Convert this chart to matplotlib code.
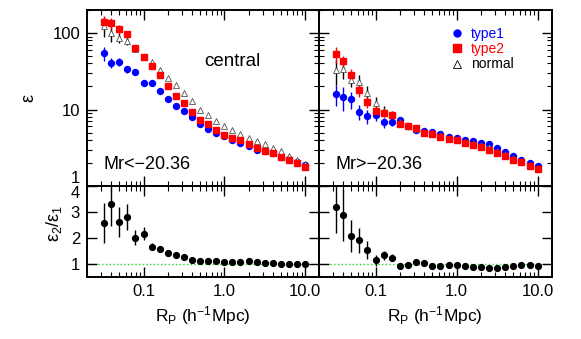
import matplotlib
matplotlib.use('Agg')
import matplotlib.pyplot as plt
from matplotlib.lines import Line2D
from matplotlib.ticker import LogLocator, NullFormatter, FixedLocator, FixedFormatter

plt.rcParams['font.family'] = ['Liberation Sans', 'DejaVu Sans']
plt.rcParams['mathtext.fontset'] = 'custom'
plt.rcParams['mathtext.rm'] = 'Liberation Sans'
plt.rcParams['mathtext.it'] = 'Liberation Sans:italic'

# projected separation bins (h^-1 Mpc)
rp = [0.032, 0.040, 0.050, 0.063, 0.079, 0.100, 0.126, 0.158, 0.200, 0.251,
      0.316, 0.398, 0.501, 0.631, 0.794, 1.00, 1.26, 1.58, 2.00, 2.51,
      3.16, 3.98, 5.01, 6.31, 7.94, 10.0]

# Mr < -20.36
left_t1 = [54, 41, 42, 33.6, 31, 22.4, 22, 17.5, 13.8, 11, 9.5, 8.0, 6.5, 5.6, 5.0,
           4.47, 4.0, 3.6, 3.3, 3.0, 2.87, 2.69, 2.41, 2.25, 2.07, 1.87]
left_t1_err = [11, 6, 5, 4, 3, 1.5, 1.2, 0.8, 0.5, 0.4, 0.3, 0.2, 0.15, 0.1, 0.1,
               0.08, 0.07, 0.06, 0.05, 0.05, 0.04, 0.04, 0.04, 0.03, 0.03, 0.03]
left_t2 = [138, 135, 112, 96, 63, 49, 37, 28.6, 20, 14.8, 12.1, 9.4, 7.2, 6.4, 5.4,
           4.7, 4.3, 4.0, 3.57, 3.1, 2.9, 2.67, 2.39, 2.2, 2.0, 1.78]
left_t2_err = [30, 22, 15, 10, 6, 4, 2.5, 1.8, 1.0, 0.7, 0.5, 0.4, 0.3, 0.2, 0.15,
               0.12, 0.1, 0.08, 0.07, 0.06, 0.05, 0.05, 0.04, 0.04, 0.03, 0.03]
left_norm = [125, 99, 86, 79, 62, 48, 41.5, 33, 26, 21, 16.6, 12.9, 9.9, 8.5, 7.1,
             6.1, 5.4, 4.8, 4.3, 3.9, 3.5, 3.16, 2.87, 2.5, 2.18, 1.95]
left_norm_err = [35, 22, 13, 10, 5, 3, 2, 1.5, 1.0, 0.7, 0.5, 0.4, 0.3, 0.2, 0.15,
                 0.12, 0.1, 0.08, 0.07, 0.06, 0.05, 0.05, 0.04, 0.04, 0.03, 0.03]
left_ratio = [2.59, 3.30, 2.63, 2.81, 2.01, 2.17, 1.67, 1.59, 1.44, 1.33, 1.27, 1.17, 1.10,
              1.10, 1.10, 1.09, 1.08, 1.09, 1.10, 1.08, 1.03, 1.03, 1.00, 0.99, 0.99, 0.99]
left_ratio_err = [0.77, 0.85, 0.58, 0.5, 0.29, 0.25, 0.12, 0.1, 0.06, 0.05, 0.04, 0.03, 0.03,
                  0.03, 0.02, 0.02, 0.02, 0.02, 0.02, 0.02, 0.02, 0.02, 0.02, 0.02, 0.02, 0.02]

# Mr > -20.36
right_t1 = [16.1, 14.6, 13.6, 9.3, 8.2, 8.5, 6.8, 6.8, 7.2, 6.1, 5.4, 5.3, 5.1, 4.8, 4.4,
            4.2, 3.95, 3.87, 3.68, 3.5, 3.16, 2.78, 2.46, 2.16, 1.97, 1.8]
right_t1_err = [5, 5, 3.5, 2, 1.7, 1.5, 1.0, 0.8, 0.6, 0.4, 0.3, 0.25, 0.2, 0.15, 0.12,
                0.1, 0.08, 0.07, 0.06, 0.05, 0.05, 0.04, 0.04, 0.03, 0.03, 0.03]
right_t2 = [53, 42.5, 28, 18.1, 12.6, 9.5, 9.1, 8.5, 6.5, 6.0, 5.7, 5.0, 4.75, 4.4, 4.15,
            3.95, 3.68, 3.43, 3.26, 2.95, 2.72, 2.48, 2.22, 2.03, 1.85, 1.65]
right_t2_err = [12, 8, 6, 3.5, 2, 1.5, 1.0, 0.8, 0.5, 0.4, 0.3, 0.25, 0.2, 0.15, 0.12,
                0.1, 0.08, 0.07, 0.06, 0.05, 0.05, 0.04, 0.04, 0.03, 0.03, 0.03]
right_norm = [33, 34, 24.5, 23, 16.5, 12, 9.6, 8.6, 6.8, 6.0, 5.5, 5.1, 4.9, 4.6, 4.3,
              4.05, 3.8, 3.6, 3.45, 3.2, 2.9, 2.6, 2.32, 2.08, 1.9, 1.72]
right_norm_err = [12, 9, 5, 5, 3.5, 2.5, 1.5, 1.0, 0.6, 0.4, 0.3, 0.25, 0.2, 0.15, 0.12,
                  0.1, 0.08, 0.07, 0.06, 0.05, 0.05, 0.04, 0.04, 0.03, 0.03, 0.03]
right_ratio = [3.19, 2.88, 2.08, 1.91, 1.54, 1.14, 1.33, 1.25, 0.92, 0.96, 1.08, 1.05, 0.92,
               0.91, 0.96, 0.95, 0.92, 0.88, 0.88, 0.84, 0.86, 0.90, 0.92, 0.95, 0.95, 0.93]
right_ratio_err = [1.0, 1.0, 0.6, 0.47, 0.33, 0.2, 0.17, 0.14, 0.06, 0.05, 0.04, 0.03, 0.03,
                   0.03, 0.02, 0.02, 0.02, 0.02, 0.02, 0.02, 0.02, 0.02, 0.02, 0.02, 0.02, 0.02]

W, H = 581, 339
fig = plt.figure(figsize=(W / 100, H / 100), dpi=100)


def px_axes(x0, x1, y0, y1):
    # pixel box (from top-left) -> figure axes
    return fig.add_axes([x0 / W, 1 - y1 / H, (x1 - x0) / W, (y1 - y0) / H])


def style(ax):
    ax.tick_params(which='both', direction='in', top=True, right=True, labelsize=12)
    ax.tick_params(which='major', length=7, width=1.0, pad=5)
    ax.tick_params(which='minor', length=3.5, width=0.8)
    for s in ax.spines.values():
        s.set_linewidth(1.4)
    ax.set_xscale('log')
    ax.set_xlim(0.02, 14.8)
    ax.xaxis.set_major_locator(FixedLocator([0.1, 1.0, 10.0]))
    ax.xaxis.set_major_formatter(FixedFormatter(['0.1', '1.0', '10.0']))
    ax.xaxis.set_minor_locator(LogLocator(base=10, subs=range(2, 10)))
    ax.xaxis.set_minor_formatter(NullFormatter())


xl, xm, xr = 87, 319, 551.5
yt, ym, yb = 10, 186, 277
ax_tl = px_axes(xl, xm, yt, ym)
ax_tr = px_axes(xm, xr, yt, ym)
ax_bl = px_axes(xl, xm, ym, yb)
ax_br = px_axes(xm, xr, ym, yb)

eb = dict(capsize=0, elinewidth=1.0, linestyle='none')
panels = [
    (ax_tl, ax_bl, left_t1, left_t1_err, left_t2, left_t2_err, left_norm, left_norm_err,
     left_ratio, left_ratio_err, 'Mr<\u221220.36'),
    (ax_tr, ax_br, right_t1, right_t1_err, right_t2, right_t2_err, right_norm, right_norm_err,
     right_ratio, right_ratio_err, 'Mr>\u221220.36'),
]

for top, bot, t1, t1e, t2, t2e, nm, nme, rat, rate, lab in panels:
    style(top)
    top.set_yscale('log')
    top.set_ylim(1, 200)
    top.errorbar(rp, t1, yerr=t1e, fmt='o', color='blue', ms=4.3, mec='blue', **eb)
    top.errorbar(rp, nm, yerr=nme, fmt='^', color='black', ms=4.6, mfc='white',
                 mec='#333333', mew=0.5, **eb)
    top.errorbar(rp, t2, yerr=t2e, fmt='s', color='red', ms=4.6, **eb)
    top.yaxis.set_major_locator(FixedLocator([1, 10, 100]))
    top.yaxis.set_major_formatter(FixedFormatter(['1', '10', '100']))
    top.yaxis.set_minor_locator(LogLocator(base=10, subs=range(2, 10)))
    top.yaxis.set_minor_formatter(NullFormatter())
    top.tick_params(axis='x', labelbottom=False)
    top.text(0.07, 0.12, lab, transform=top.transAxes, fontsize=13, ha='left', va='center')

    style(bot)
    bot.set_ylim(0.5, 4)
    bot.yaxis.set_major_locator(FixedLocator([1, 2, 3, 4]))
    bot.yaxis.set_minor_locator(FixedLocator([]))
    bot.axhline(1.0, color='#22dd22', linestyle=':', linewidth=1.0, zorder=1)
    bot.errorbar(rp, rat, yerr=rate, fmt='o', color='black', ms=4.2, zorder=3, **eb)
    bot.set_xlabel(r'R$_{\rm P}$ (h$^{-1}$Mpc)', fontsize=12.5, labelpad=4)

ax_tr.tick_params(axis='y', labelleft=False)
ax_br.tick_params(axis='y', labelleft=False)

# keep the "1" of the upper panel and the "4" of the lower one apart
for lbl in ax_tl.get_yticklabels():
    if lbl.get_text() == '1':
        lbl.set_va('bottom')
for lbl in ax_bl.get_yticklabels():
    if lbl.get_text() == '4':
        lbl.set_va('top')

ax_tl.text(0.625, 0.705, 'central', transform=ax_tl.transAxes, fontsize=13.5,
           ha='center', va='center')

handles = [
    Line2D([], [], marker='o', color='blue', linestyle='none', ms=5),
    Line2D([], [], marker='s', color='red', linestyle='none', ms=5.5),
    Line2D([], [], marker='^', color='black', mfc='none', mew=0.6, linestyle='none', ms=5.5),
]
ax_tr.legend(handles, ['type1', 'type2', 'normal'], loc='upper left',
             bbox_to_anchor=(0.535, 0.945), frameon=False, fontsize=10,
             handlelength=1.0, handletextpad=0.5, labelspacing=0.1, borderpad=0,
             labelcolor=['blue', 'red', 'black'])

fig.text(29 / W, 1 - 98 / H, '\u03b5', fontsize=13, rotation=90, ha='center', va='center')
fig.text(54 / W, 1 - 223 / H, '\u03b5$_2$/\u03b5$_1$', fontsize=13, rotation=90,
         ha='center', va='center')

fig.savefig('out.png', dpi=100)
